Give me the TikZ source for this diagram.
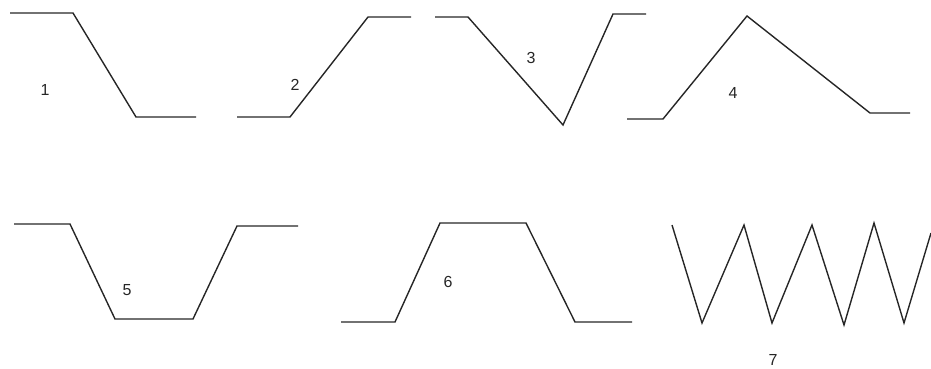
\documentclass[tikz,border=0pt]{standalone}
\usepackage{fontspec}
\setmainfont{Liberation Sans}
\begin{document}
\begin{tikzpicture}[x=1pt,y=-1pt,
  prof/.style={draw=black!85, line width=1.4pt, line join=miter},
  num/.style={font=\fontsize{16}{16}\selectfont, text=black!85, inner sep=0pt}]
\useasboundingbox (0,0) rectangle (931,369);
% 1
\draw[prof] (10,13) -- (73,13) -- (136,117) -- (196,117);
\node[num] (n1) at (45,90) {1};
% 2
\draw[prof] (237,117) -- (290,117) -- (368,17) -- (411,17);
\node[num] (n2) at (295,85) {2};
% 3
\draw[prof] (435,17) -- (468,17) -- (563,125) -- (613,14) -- (646,14);
\node[num] (n3) at (531,58) {3};
% 4
\draw[prof] (627,119) -- (663,119) -- (747,16) -- (870,113) -- (910,113);
\node[num] (n4) at (733,93) {4};
% 5
\draw[prof] (14,224) -- (70,224) -- (115,319) -- (193,319) -- (237,226) -- (298,226);
\node[num] (n5) at (127,290) {5};
% 6
\draw[prof] (341,322) -- (395,322) -- (440,223) -- (526,223) -- (575,322) -- (632,322);
\node[num] (n6) at (448,282) {6};
% 7
\draw[prof] (672,225) -- (702,323) -- (744,225) -- (772,323) -- (812,225) -- (844,325) -- (874,223) -- (904,323) -- (931,233);
\node[num] (n7) at (773,360) {7};
\end{tikzpicture}
\end{document}
